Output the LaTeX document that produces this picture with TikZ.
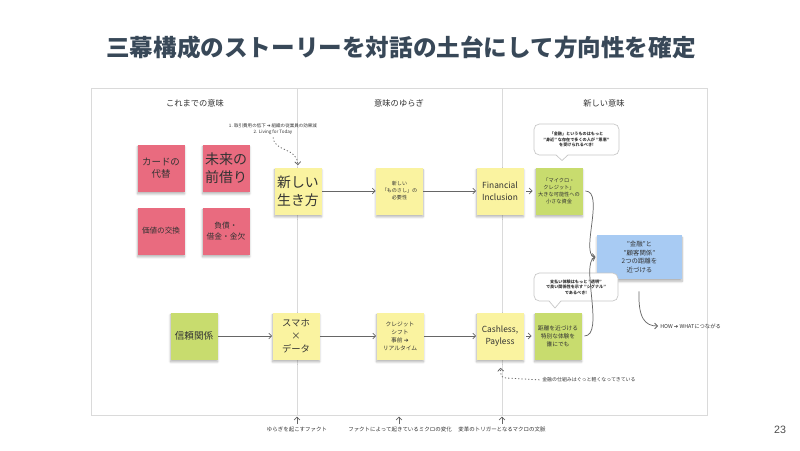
\documentclass[tikz,border=0pt]{standalone}
\usepackage{fontspec}
\setmainfont{Noto Sans CJK JP}
\newfontfamily\symf{DejaVu Sans}
\newfontfamily\numf{Liberation Sans}
\usetikzlibrary{arrows.meta,shadows.blur}
\def\PX{0.75pt}
\definecolor{pinkc}{HTML}{E96B7F}
\definecolor{yellowc}{HTML}{FAF3A0}
\definecolor{greenc}{HTML}{C8DC6E}
\definecolor{bluec}{HTML}{A8CBF3}
\definecolor{titlec}{HTML}{384858}
\definecolor{framec}{HTML}{DADADA}
\definecolor{txt}{HTML}{333333}
\tikzset{
  sticky/.style={minimum width=47*\PX, minimum height=47*\PX, align=center, text=txt,
    inner sep=1pt,
    blur shadow={shadow xshift=0pt, shadow yshift=-1.8pt, shadow blur radius=1.6pt, shadow opacity=30, shadow blur steps=8}},
  pinkbox/.style={sticky, fill=pinkc},
  yellowbox/.style={sticky, fill=yellowc},
  greenbox/.style={sticky, fill=greenc},
  bluebox/.style={sticky, fill=bluec},
  hdr/.style={text=txt, font=\fontsize{6.2}{7.5}\selectfont, inner sep=0pt},
  note/.style={text=txt, font=\fontsize{3.6}{4.6}\selectfont, align=center, inner sep=0pt},
  bubble/.style={fill=white, draw=black!22, line width=0.5pt, rounded corners=4pt, align=center,
    text=txt, font=\bfseries\fontsize{3.1}{4.1}\selectfont, inner sep=0pt},
  conn/.style={draw=black!60, line width=0.55pt, -{Straight Barb[length=2.2pt,width=4.4pt]}},
  dotconn/.style={draw=black!60, line width=0.6pt, dash pattern=on 0.9pt off 1.6pt, -{Straight Barb[length=2.2pt,width=4.4pt]}},
  framel/.style={draw=framec, line width=0.7pt},
}
\begin{document}
\begin{tikzpicture}[x=0.75pt,y=-0.75pt]
\useasboundingbox (0,0) rectangle (800,450);
% title
\node[text=titlec, font=\bfseries\fontsize{17.7}{21}\selectfont] (title) at (401,48) {三幕構成のストーリーを対話の土台にして方向性を確定};
% frame
\draw[framel] (91,88) rectangle (707,415);
\draw[framel] (297,88) -- (297,415);
\draw[framel] (502,88) -- (502,415);
% headers
\node[hdr] (h1) at (195,103) {これまでの意味};
\node[hdr] (h2) at (399,103) {意味のゆらぎ};
\node[hdr] (h3) at (604,103) {新しい意味};
% pink stickies
\node[pinkbox, font=\fontsize{7.1}{9.2}\selectfont] (p1) at (161,168) {カードの\\代替};
\node[pinkbox, font=\fontsize{10.5}{13.5}\selectfont] (p2) at (226,168) {未来の\\前借り};
\node[pinkbox, font=\fontsize{5.7}{7}\selectfont] (p3) at (161,231) {価値の交換};
\node[pinkbox, font=\fontsize{5.8}{8}\selectfont] (p4) at (226,231) {負債・\\借金・金欠};
% row 1
\node[yellowbox, font=\fontsize{10.4}{13.5}\selectfont] (y1) at (298,191) {新しい\\生き方};
\node[yellowbox, font=\fontsize{3.8}{5.2}\selectfont] (y2) at (399.5,191) {新しい\\「ものさし」の\\必要性};
\node[yellowbox, font=\fontsize{6.3}{8.6}\selectfont] (y3) at (500,191) {Financial\\Inclusion};
\node[greenbox, font=\fontsize{3.9}{5.2}\selectfont] (g1) at (559,191) {「マイクロ・\\クレジット」\\大きな可能性への\\小さな資金};
% blue
\node[bluebox, minimum width=85*\PX, minimum height=44*\PX, font=\fontsize{4.8}{6.6}\selectfont] (bl) at (639.5,257) {"金融"と\\"顧客関係"\\2つの距離を\\近づける};
% row 2
\node[greenbox, font=\fontsize{7.2}{9}\selectfont] (g0) at (194,336) {信頼関係};
\node[yellowbox, font=\fontsize{7}{10}\selectfont] (y4) at (296,336) {スマホ\\×\\データ};
\node[yellowbox, font=\fontsize{4.3}{6}\selectfont] (y5) at (400,336) {クレジット\\シフト\\事前 {\symf ➔}\\リアルタイム};
\node[yellowbox, font=\fontsize{6.3}{8.6}\selectfont] (y6) at (500,336) {Cashless,\\Payless};
\node[greenbox, font=\fontsize{4.3}{6}\selectfont] (g2) at (558,336) {距離を近づける\\特別な体験を\\誰にでも};
% speech bubbles
\node[bubble, minimum width=85*\PX, minimum height=31*\PX] (b1) at (576.5,139.5) {「金融」というものはもっと\\"身近" な存在で多くの人が "恩恵"\\を受けられるべき!};
\fill[white] (556,154) -- (562,160.5) -- (568,154) -- cycle;
\draw[black!22, line width=0.5pt] (556,155) -- (562,160.5) -- (568,155);
\node[bubble, minimum width=84*\PX, minimum height=28*\PX] (b2) at (576,287) {支払い体験はもっと "透明"\\で良い関係性を示す "シグナル"\\であるべき!};
\fill[white] (549,300) -- (555,308) -- (561,300) -- cycle;
\draw[black!22, line width=0.5pt] (549,301) -- (555,308) -- (561,301);
% annotation top
\node[note, font=\fontsize{3.4}{4.6}\selectfont] (ann) at (273,129) {1. 取引費用の低下 {\symf ➔} 組織の従業員の効果減\\2. Living for Today};
\draw[dotconn, shorten <=2pt, shorten >=1.5pt] (ann.south) .. controls (274,152) and (297,147) .. (y1.north);
% row connectors
\draw[conn] (y1.east) -- (y2.west);
\draw[conn] (y2.east) -- (y3.west);
\draw[conn, shorten <=2pt, shorten >=2pt] (y3.east) -- (g1.west);
\draw[conn] (g0.east) -- (y4.west);
\draw[conn] (y4.east) -- (y5.west);
\draw[conn] (y5.east) -- (y6.west);
\draw[conn, shorten <=2pt, shorten >=2pt] (y6.east) -- (g2.west);
% curves to blue
\draw[conn, shorten <=2pt, shorten >=1pt] (g1.east) .. controls (605,191) and (580,255) .. (bl.west);
\draw[conn, shorten <=2pt, shorten >=1pt] (g2.east) .. controls (605,336) and (580,262) .. (bl.west);
% HOW -> WHAT
\node[note, anchor=west, font=\fontsize{4}{5}\selectfont] (how) at (660,326) {HOW {\symf ➔} WHATにつながる};
\draw[conn, shorten <=9pt, shorten >=1.5pt] (bl.south) .. controls (638,318) and (645,326) .. (how.west);
% lighter finance note
\node[note, anchor=west, font=\fontsize{3.7}{4.6}\selectfont] (light) at (542,380) {金融の仕組みはぐっと軽くなってきている};
\coordinate (lc) at (506,378);
\draw[dotconn, shorten <=2pt, shorten >=6pt] (light.west) -- (lc) .. controls (501,377) .. (y6.south);
% bottom labels
\node[note, font=\fontsize{4.1}{5}\selectfont] (f1) at (297,429) {ゆらぎを起こすファクト};
\node[note, font=\fontsize{4.1}{5}\selectfont] (f2) at (400,429) {ファクトによって起きているミクロの変化};
\node[note, font=\fontsize{4.1}{5}\selectfont] (f3) at (502,429) {変革のトリガーとなるマクロの文脈};
\coordinate (fb1) at (297,416.5);
\coordinate (fb2) at (399,416.5);
\coordinate (fb3) at (502,416.5);
\draw[conn, shorten <=1.5pt] (f1.north) -- (fb1);
\draw[conn, shorten <=1.5pt] (f1.north -| fb2) -- (fb2);
\draw[conn, shorten <=1.5pt] (f3.north) -- (fb3);
% page number
\node[text=black!70, font=\numf\fontsize{8}{9}\selectfont] (pg) at (780,430) {23};
\end{tikzpicture}
\end{document}
